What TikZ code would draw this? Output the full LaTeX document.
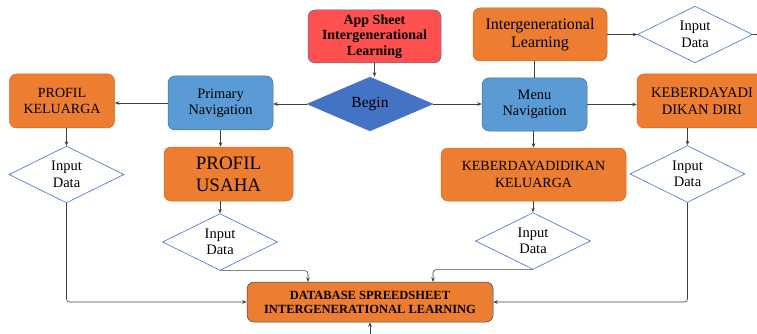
\documentclass[tikz,border=0pt]{standalone}
\usepackage{fontspec}
\setmainfont{Liberation Serif}
\usetikzlibrary{shapes.geometric,arrows.meta}
\definecolor{cred}{HTML}{FF5050}
\definecolor{corange}{HTML}{ED7D31}
\definecolor{cnav}{HTML}{5B9BD5}
\definecolor{cbegin}{HTML}{4472C4}
\definecolor{cborder}{HTML}{41719C}
\definecolor{cline}{HTML}{404040}
\begin{document}
\begin{tikzpicture}[x=1pt,y=-1pt,
  box/.style={rectangle, rounded corners=7pt, align=center, inner sep=1pt, line width=0.5pt},
  obox/.style={box, fill=corange, draw=corange!85!black},
  nbox/.style={box, fill=cnav, draw=cborder},
  inp/.style={diamond, draw=cbegin, fill=white, line width=0.6pt, inner sep=0pt,
    minimum width=115pt, minimum height=55pt, align=center, font=\fontsize{14.5}{16.5}\selectfont},
  arr/.style={draw=cline, line width=0.6pt, rounded corners=3pt, -{Stealth[length=4.5pt,width=3.5pt]}},
  ln/.style={draw=cline, line width=0.6pt}]
\useasboundingbox (0,0) rectangle (757,334);

% top row
\node[box, fill=cred, draw=cborder, minimum width=133pt, minimum height=53pt,
  font=\bfseries\fontsize{14}{15.5}\selectfont] (app) at (374.5,36.5) {App Sheet\\Intergenerational\\Learning};
\node[diamond, fill=cbegin, draw=cbegin, inner sep=0pt, minimum width=126pt, minimum height=54pt,
  font=\fontsize{15.5}{17}\selectfont] (begin) at (370,104) {Begin};
\node[obox, minimum width=134pt, minimum height=53pt, font=\fontsize{16}{18}\selectfont]
  (il) at (540,34.5) {Intergenerational\\Learning};
\node[inp] (inTR) at (695,34.5) {Input\\Data};
\coordinate (stub) at (757,34.5);

% navigation row
\node[nbox, minimum width=105pt, minimum height=54pt, font=\fontsize{14.4}{16}\selectfont]
  (pnav) at (220.5,103) {Primary\\Navigation};
\node[obox, minimum width=105pt, minimum height=54pt, font=\fontsize{14}{16}\selectfont]
  (pkel) at (62,101) {PROFIL\\KELUARGA};
\node[nbox, minimum width=105pt, minimum height=53pt, font=\fontsize{14.4}{16}\selectfont]
  (mnav) at (534.5,104.5) {Menu\\Navigation};
\node[obox, minimum width=130pt, minimum height=54pt, font=\fontsize{14.5}{16.5}\selectfont]
  (kdd) at (702,101) {KEBERDAYADI\\DIKAN DIRI};

% second row
\node[inp] (inL) at (66.5,174.5) {Input\\Data};
\node[obox, minimum width=129pt, minimum height=54pt, font=\fontsize{19}{22}\selectfont]
  (pusaha) at (228.5,174) {PROFIL\\USAHA};
\node[obox, minimum width=185pt, minimum height=53pt, font=\fontsize{14}{17}\selectfont]
  (kkel) at (533.5,174.5) {KEBERDAYADIDIKAN\\KELUARGA};
\node[inp] (inR) at (687.5,174) {Input\\Data};

% third row
\node[inp] (inPU) at (220,242) {Input\\Data};
\node[inp] (inKK) at (533,241) {Input\\Data};

% database
\node[box, fill=corange, draw=cborder!60!black, minimum width=246pt, minimum height=40pt,
  font=\bfseries\fontsize{12.5}{14}\selectfont] (db) at (370,302)
  {DATABASE SPREEDSHEET\\INTERGENERATIONAL LEARNING};
\coordinate (dbt1) at (308,282);
\coordinate (dbt2) at (433,282);
\coordinate (bot) at (370,334);

% connectors
\draw[arr] (app.south) -- (app.south |- begin.north);
\draw[arr] (begin.west) -- (pnav.east |- begin.west);
\draw[arr] (pnav.west) -- (pkel.east |- pnav.west);
\draw[arr] (begin.east) -- (mnav.west |- begin.east);
\draw[arr] (mnav.east) -- (kdd.west |- mnav.east);
\draw[ln] (mnav.north |- il.south) -- (mnav.north);
\draw[arr] (il.east) -- (inTR.west);
\draw[ln] (inTR.east) -- (stub);
\draw[arr] (inL.north |- pkel.south) -- (inL.north);
\draw[arr] (pnav.south) -- (pnav.south |- pusaha.north);
\draw[arr] (inPU.north |- pusaha.south) -- (inPU.north);
\draw[arr] (mnav.south -| kkel.north) -- (kkel.north);
\draw[arr] (inKK.north |- kkel.south) -- (inKK.north);
\draw[arr] (inR.north |- kdd.south) -- (inR.north);
\draw[arr] (inL.south) |- (db.west);
\draw[arr] (inPU.south) -| (dbt1);
\draw[arr] (inKK.south) -| (dbt2);
\draw[arr] (inR.south) |- (db.east);
\draw[arr] (bot) -- (db.south);
\end{tikzpicture}
\end{document}
